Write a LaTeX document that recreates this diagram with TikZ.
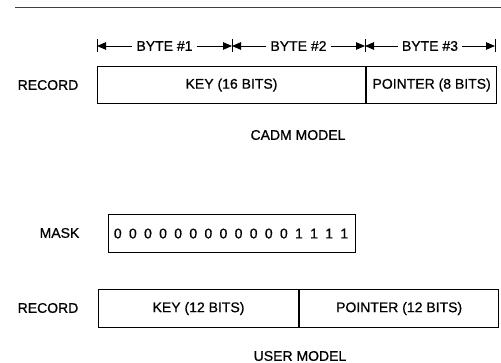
\documentclass[tikz,border=0pt]{standalone}
\usepackage{fontspec}
\setmainfont{Liberation Sans}[FakeBold=0.8]
\usetikzlibrary{arrows.meta,calc}
\begin{document}
\begin{tikzpicture}[x=1pt,y=1pt,
  every node/.style={font=\fontsize{14}{16}\selectfont},
  field/.style={draw,line width=1.1pt,minimum height=37pt,inner sep=0pt,anchor=north west},
  lbl/.style={inner sep=0pt},
  dimline/.style={line width=0.9pt,-{Triangle[length=9pt,width=7.5pt]}},
  tick/.style={line width=1pt}]
\useasboundingbox (0,0) rectangle (501,-363);

% rule across the top
\draw[line width=0.9pt,black!75] (15,-7) -- (501,-7);

% byte dimension lines
\coordinate (t0) at (97,-46);
\coordinate (t1) at (232,-46);
\coordinate (t2) at (365,-46);
\coordinate (t3) at (495,-46);
\foreach \t in {t0,t1,t2,t3}
  \draw[tick] ([yshift=6.5pt]\t) -- ([yshift=-6.5pt]\t);
\node[inner sep=4pt] (b1) at ($(t0)!0.5!(t1)$) {BYTE \#1};
\node[inner sep=4pt] (b2) at ($(t1)!0.5!(t2)$) {BYTE \#2};
\node[inner sep=4pt] (b3) at ($(t2)!0.5!(t3)$) {BYTE \#3};
\draw[dimline] (b1.west) -- (t0);
\draw[dimline] (b1.east) -- (t1);
\draw[dimline] (b2.west) -- (t1);
\draw[dimline] (b2.east) -- (t2);
\draw[dimline] (b3.west) -- (t2);
\draw[dimline] (b3.east) -- (t3);

% CADM record
\node[lbl] (rec1) at (48,-85) {RECORD};
\node[field,minimum width=268pt] (key1) at (97,-66) {KEY (16 BITS)};
\node[field,minimum width=130pt] (ptr1) at (key1.north east) {POINTER (8 BITS)};
\node[lbl] (cadm) at (298,-135) {CADM MODEL};

% mask
\node[lbl] (masklbl) at (59.5,-233) {MASK};
\def\dg#1{\makebox[15.1pt]{#1}}
\node[field,minimum width=247pt,minimum height=38pt] (mask) at (108,-214)
  {\hspace{-2pt}\dg0\dg0\dg0\dg0\dg0\dg0\dg0\dg0\dg0\dg0\dg0\dg0\dg1\dg1\dg1\dg1};

% user record
\node[lbl] (rec2) at (48,-308) {RECORD};
\node[field,minimum width=200pt,minimum height=38pt] (key2) at (98,-289) {KEY (12 BITS)};
\node[field,minimum width=199pt,minimum height=38pt] (ptr2) at (key2.north east) {POINTER (12 BITS)};
\node[lbl] (user) at (300,-356) {USER MODEL};
\end{tikzpicture}
\end{document}
